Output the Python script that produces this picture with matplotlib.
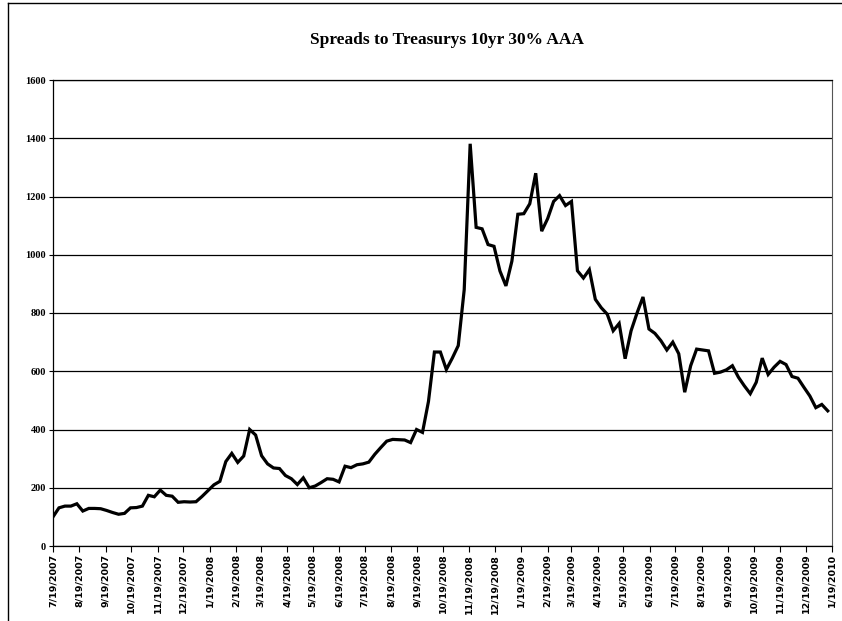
import numpy as np
import pandas as pd
import matplotlib
matplotlib.use('Agg')
import matplotlib.pyplot as plt
import matplotlib.dates as mdates
from matplotlib.lines import Line2D

# weekly spread readings (bp), starting 7/19/2007
start_date = '2007-07-19'
spreads = [100, 131, 137, 137, 145, 120, 129, 129, 128, 122,
           115, 109, 112, 131, 132, 137, 174, 169, 192, 174,
           171, 150, 152, 151, 152, 170, 190, 210, 222, 290,
           318, 287, 309, 400, 381, 310, 282, 268, 266, 242,
           231, 211, 234, 200, 206, 218, 231, 229, 220, 274,
           269, 279, 282, 288, 315, 338, 360, 366, 365, 364,
           355, 400, 390, 496, 666, 666, 606, 645, 688, 880,
           1381, 1094, 1089, 1035, 1029, 944, 893, 978, 1139, 1141,
           1175, 1280, 1081, 1124, 1183, 1203, 1169, 1183, 945, 920,
           949, 847, 818, 796, 739, 764, 643, 739, 800, 855,
           745, 730, 705, 673, 700, 660, 528, 619, 676, 673,
           670, 593, 597, 605, 619, 580, 550, 523, 562, 645,
           589, 614, 634, 623, 582, 576, 545, 515, 475, 486,
           464]
dates = pd.date_range(start_date, periods=len(spreads), freq='7D')

# month ticks on the 19th
tick_dates = pd.date_range('2007-07-19', '2010-01-19', freq=pd.DateOffset(months=1))
tick_labels = [f'{d.month}/{d.day}/{d.year}' for d in tick_dates]
y_ticks = [0, 200, 400, 600, 800, 1000, 1200, 1400, 1600]

fig = plt.figure(figsize=(8.42, 6.21), dpi=100)
ax = fig.add_axes([53/842, 1 - 546/621, (832 - 53)/842, (546 - 80)/621])

ax.plot(dates, spreads, color='black', lw=2.3, solid_joinstyle='miter')

ax.set_xlim(tick_dates[0], tick_dates[-1])
ax.set_ylim(0, 1600)
ax.set_yticks(y_ticks)
ax.set_yticklabels([str(v) for v in y_ticks], fontfamily='Liberation Serif',
                   fontweight='bold', fontsize=7.5)
ax.set_xticks(tick_dates)
ax.set_xticklabels(tick_labels, rotation=90, fontfamily='DejaVu Sans',
                   fontweight='bold', fontsize=6.8)
ax.tick_params(axis='x', length=4, width=0.8, pad=1.5)
ax.tick_params(axis='y', length=3, width=0.8, pad=2)

ax.grid(axis='y', color='black', lw=0.9)
ax.set_axisbelow(True)
for s in ['left', 'bottom', 'top']:
    ax.spines[s].set_linewidth(0.9)
ax.spines['right'].set_color('#555555')
ax.spines['right'].set_linewidth(0.8)

fig.text(447/842, 1 - 40/621, 'Spreads to Treasurys 10yr 30% AAA',
         ha='center', va='center', fontfamily='Liberation Serif',
         fontweight='bold', fontsize=12.5)

# outer chart frame (left and top edges visible in the scan)
fig.add_artist(Line2D([8/842, 8/842], [0, 1 - 3/621], color='black', lw=1.0,
                      transform=fig.transFigure))
fig.add_artist(Line2D([8/842, 1], [1 - 3/621, 1 - 3/621], color='black', lw=1.0,
                      transform=fig.transFigure))

fig.savefig('out.png', dpi=100)
